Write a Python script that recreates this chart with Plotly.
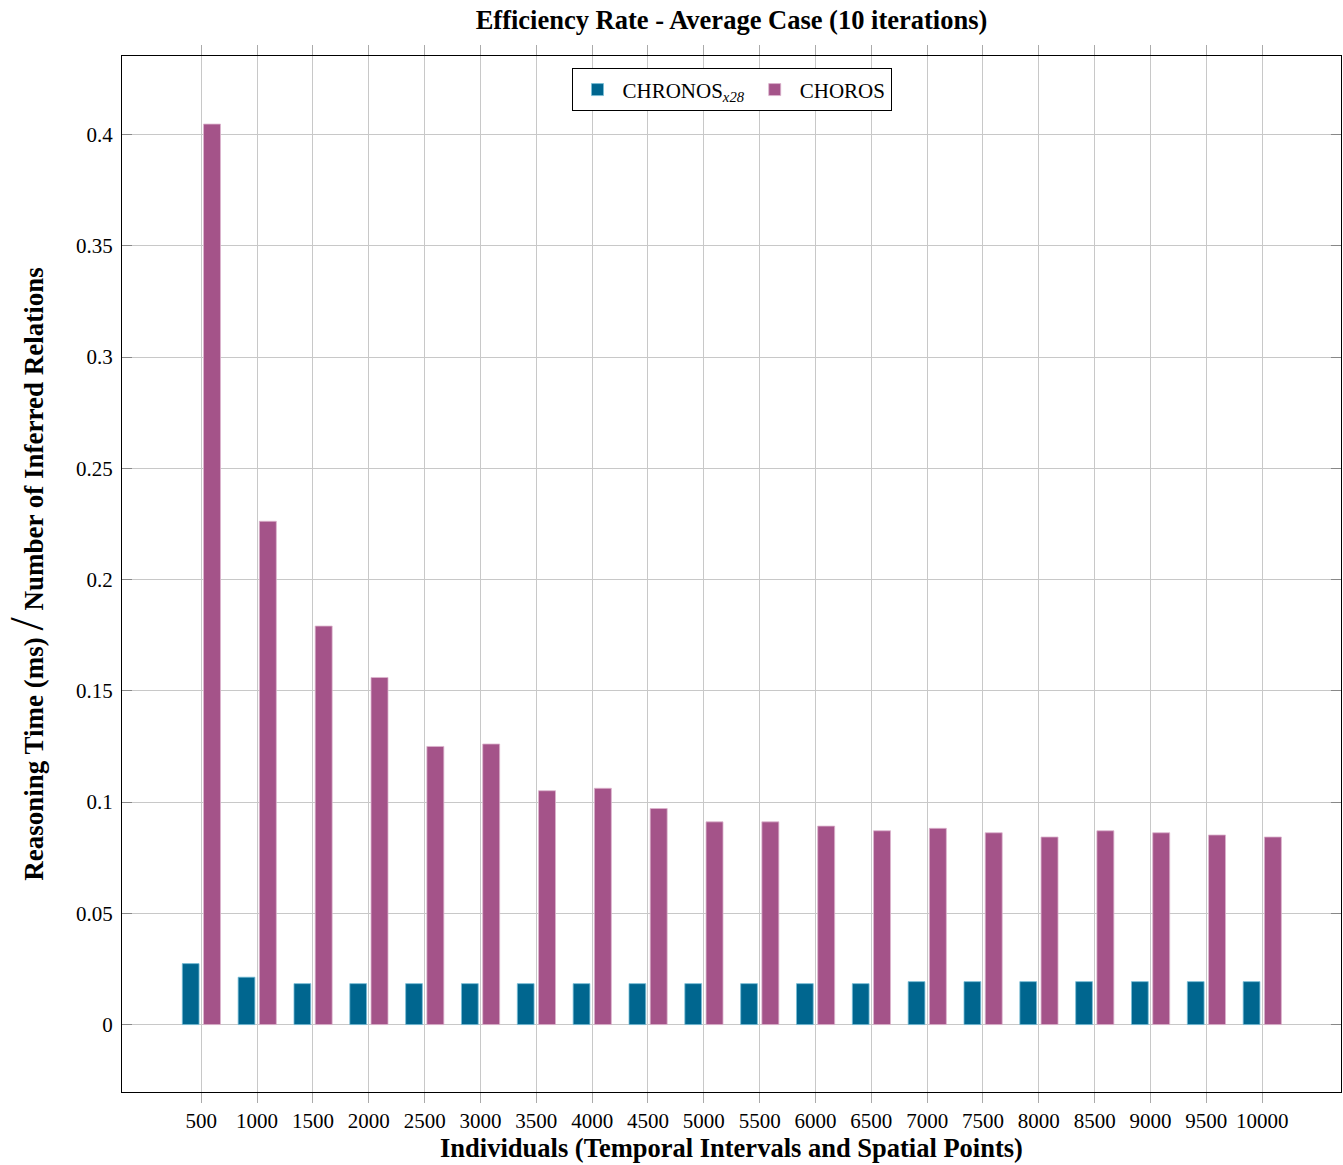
import plotly.graph_objects as go

individuals = [500, 1000, 1500, 2000, 2500, 3000, 3500, 4000, 4500, 5000,
               5500, 6000, 6500, 7000, 7500, 8000, 8500, 9000, 9500, 10000]
chronos_x28 = [0.0274, 0.0213, 0.0184, 0.0184, 0.0184, 0.0184, 0.0184, 0.0184, 0.0184, 0.0184,
               0.0184, 0.0184, 0.0184, 0.0193, 0.0193, 0.0193, 0.0193, 0.0193, 0.0193, 0.0193]
choros = [0.4047, 0.2262, 0.1791, 0.1560, 0.1250, 0.1261, 0.1051, 0.1062, 0.0971, 0.0911,
          0.0911, 0.0892, 0.0871, 0.0882, 0.0862, 0.0843, 0.0871, 0.0862, 0.0852, 0.0843]
y_ticks = [0, 0.05, 0.1, 0.15, 0.2, 0.25, 0.3, 0.35, 0.4]
y_tick_labels = ["0", "0.05", "0.1", "0.15", "0.2", "0.25", "0.3", "0.35", "0.4"]

FONT = "Liberation Serif, Times New Roman, serif"
C_BLUE = "#00668f"
C_PURPLE = "#a45389"

fig = go.Figure()
fig.add_trace(go.Bar(
    x=individuals, y=chronos_x28, name="CHRONOS<sub><i>x28</i></sub>",
    width=150, offset=-170,
    marker=dict(color=C_BLUE, line=dict(color="rgba(120,190,215,0.8)", width=1)),
))
fig.add_trace(go.Bar(
    x=individuals, y=choros, name="CHOROS",
    width=152, offset=20,
    marker=dict(color=C_PURPLE, line=dict(color="rgba(220,180,205,0.8)", width=1)),
))

fig.update_layout(
    width=1343, height=1165,
    margin=dict(l=122, r=2, t=56, b=73),
    plot_bgcolor="white", paper_bgcolor="white",
    font=dict(family=FONT, size=21, color="black"),
    title=dict(text="<b>Efficiency Rate - Average Case (10 iterations)</b>",
               xref="paper", x=0.5, xanchor="center",
               yref="container", y=1 - 20 / 1165, yanchor="middle",
               font=dict(size=26.5, family=FONT)),
    barmode="overlay",
    showlegend=True,
    legend=dict(orientation="h", x=0.5, xanchor="center", y=0.988, yanchor="top",
                bordercolor="black", borderwidth=1, bgcolor="white",
                font=dict(size=21, family=FONT), itemwidth=40,
                tracegroupgap=0, traceorder="normal"),
    xaxis=dict(
        range=[-210, 10706],
        tickmode="array", tickvals=individuals,
        ticktext=[str(v) for v in individuals],
        ticks="outside", ticklen=10, tickcolor="#aaaaaa", tickwidth=1,
        showgrid=True, gridcolor="#c8c8c8", gridwidth=1,
        showline=True, linecolor="black", linewidth=1.3, mirror="ticks",
        zeroline=False,
        tickfont=dict(size=21),
        title=dict(text="<b>Individuals (Temporal Intervals and Spatial Points)</b>",
                   font=dict(size=26.5), standoff=6),
        automargin=False,
    ),
    yaxis=dict(
        range=[-0.0303, 0.4353],
        tickmode="array", tickvals=y_ticks, ticktext=y_tick_labels,
        ticks="inside", ticklen=10, tickcolor="#888888", tickwidth=1,
        ticklabelstandoff=4,
        showgrid=True, gridcolor="#c8c8c8", gridwidth=1,
        showline=True, linecolor="black", linewidth=1.3, mirror="ticks",
        zeroline=False,
        tickfont=dict(size=21),
        title=dict(text="<b>Reasoning Time (ms) </b><span style='font-size:48px;font-weight:normal'>/</span><b> Number of Inferred Relations</b>",
                   font=dict(size=27), standoff=37),
        automargin=False,
    ),
)

fig.write_html("out.html",
               config={"displayModeBar": False},
               post_script="document.body.style.margin='0';document.body.style.overflow='hidden';")
